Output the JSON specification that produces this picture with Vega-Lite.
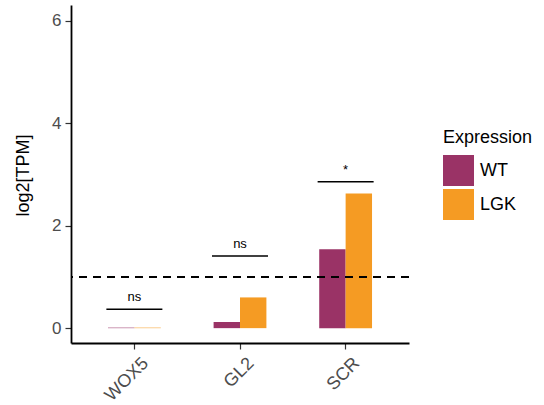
{
  "$schema": "https://vega.github.io/schema/vega-lite/v6.json",
  "autosize": "none",
  "padding": {"left": 71, "top": 5, "right": 135, "bottom": 62},
  "width": 338,
  "height": 338,
  "background": "white",
  "config": {
    "font": "Liberation Sans",
    "view": {"stroke": null},
    "axis": {"grid": false}
  },
  "datasets": {
    "bars": [
      {"gene": "WOX5", "Expression": "WT", "value": 0.01},
      {"gene": "WOX5", "Expression": "LGK", "value": 0.01},
      {"gene": "GL2", "Expression": "WT", "value": 0.12},
      {"gene": "GL2", "Expression": "LGK", "value": 0.6},
      {"gene": "SCR", "Expression": "WT", "value": 1.54},
      {"gene": "SCR", "Expression": "LGK", "value": 2.63}
    ],
    "sig": [
      {"gene": "WOX5", "y": 0.37, "label": "ns"},
      {"gene": "GL2", "y": 1.41, "label": "ns"},
      {"gene": "SCR", "y": 2.86, "label": "*"}
    ],
    "ref": [{"threshold": 1}]
  },
  "layer": [
    {
      "data": {"name": "bars"},
      "mark": {"type": "bar"},
      "encoding": {
        "x": {
          "field": "gene", "type": "nominal", "sort": ["WOX5", "GL2", "SCR"],
          "scale": {"paddingInner": 0.5, "paddingOuter": 0.35},
          "axis": {
            "title": null, "labelAngle": -45, "labelAlign": "right", "labelBaseline": "top",
            "labelFontSize": 18, "labelColor": "#4D4D4D", "labelPadding": 5, "labelOffset": 5,
            "domainColor": "black", "domainWidth": 1.8, "tickColor": "#333333", "tickSize": 6, "tickWidth": 1.2
          }
        },
        "xOffset": {"field": "Expression", "type": "nominal", "sort": ["WT", "LGK"], "scale": {"paddingInner": 0, "paddingOuter": 0}},
        "y": {
          "field": "value", "type": "quantitative", "stack": null,
          "scale": {"domain": [-0.29, 6.31], "nice": false, "zero": false},
          "axis": {
            "title": "log2[TPM]", "values": [0, 2, 4, 6],
            "labelFontSize": 17, "labelColor": "#4D4D4D", "labelPadding": 4,
            "domainColor": "black", "domainWidth": 1.8, "tickColor": "#333333", "tickSize": 6, "tickWidth": 1.2,
            "titleFontSize": 18, "titleFontWeight": "normal", "titleColor": "black",
            "titleX": -48, "titleY": 170, "titleAngle": -90, "titleAlign": "center", "titleBaseline": "middle"
          }
        },
        "color": {
          "field": "Expression", "type": "nominal",
          "scale": {"domain": ["WT", "LGK"], "range": ["#9A3366", "#F59B23"]},
          "legend": {
            "title": "Expression", "orient": "none", "legendX": 372, "legendY": 124,
            "titleFontSize": 18, "titleFontWeight": "normal", "titleColor": "black", "titlePadding": 8,
            "labelFontSize": 18, "labelColor": "black", "labelOffset": 6,
            "symbolType": "square", "symbolSize": 961, "symbolStrokeWidth": 0, "rowPadding": 3
          }
        }
      }
    },
    {
      "data": {"name": "ref"},
      "mark": {"type": "rule", "color": "black", "strokeWidth": 2, "strokeDash": [8, 6]},
      "encoding": {"y": {"field": "threshold", "type": "quantitative"}}
    },
    {
      "data": {"name": "sig"},
      "mark": {"type": "tick", "orient": "horizontal", "size": 56, "thickness": 1.6, "color": "black", "opacity": 1},
      "encoding": {
        "x": {"field": "gene", "type": "nominal", "sort": ["WOX5", "GL2", "SCR"]},
        "y": {"field": "y", "type": "quantitative"}
      }
    },
    {
      "data": {"name": "sig"},
      "mark": {"type": "text", "fontSize": 13, "baseline": "alphabetic", "dy": -8, "color": "black"},
      "encoding": {
        "x": {"field": "gene", "type": "nominal", "sort": ["WOX5", "GL2", "SCR"]},
        "y": {"field": "y", "type": "quantitative"},
        "text": {"field": "label"}
      }
    }
  ]
}
